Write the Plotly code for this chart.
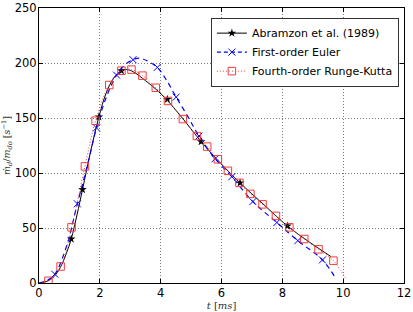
import plotly.graph_objects as go

# Abramzon et al. (1989) - smooth curve and star markers
abr_t = [0.0, 0.3, 0.5, 0.7, 0.9, 1.06, 1.25, 1.43, 1.7, 1.97, 2.2, 2.45, 2.71, 2.9, 3.1, 3.5, 3.85,
         4.22, 4.8, 5.33, 6.0, 6.61, 7.4, 8.17, 8.9, 9.6]
abr_y = [0.0, 2.0, 6.0, 14.0, 27.0, 40.0, 62.0, 85.0, 120.0, 151.0, 172.0, 186.0, 193.0, 194.0, 192.0,
         184.0, 176.0, 166.0, 147.0, 128.5, 108.0, 91.0, 71.0, 51.8, 37.0, 24.0]
abr_mt = [1.06, 1.43, 1.97, 2.71, 4.22, 5.33, 6.61, 8.17]
abr_my = [40.0, 85.0, 151.0, 193.0, 167.0, 128.5, 91.0, 51.8]

# First-order Euler
eul_t = [0.0, 0.25, 0.52, 0.9, 1.26, 1.6, 1.89, 2.2, 2.55, 2.85, 3.09, 3.3, 3.55, 3.89, 4.2, 4.51,
         4.9, 5.26, 5.79, 6.34, 7.03, 7.82, 8.51, 9.32, 9.76]
eul_y = [0.0, 2.0, 8.0, 33.0, 72.0, 108.0, 141.0, 168.0, 189.0, 199.0, 203.0, 204.5, 202.0, 196.0,
         184.0, 169.0, 151.0, 133.6, 113.0, 96.6, 74.0, 55.0, 38.5, 21.0, 4.0]
eul_mt = [0.52, 1.26, 1.89, 2.55, 3.09, 3.89, 4.51, 5.26, 5.79, 6.34, 7.03, 7.82, 8.51, 9.32]
eul_my = [8.0, 72.0, 141.0, 189.0, 203.0, 196.0, 169.0, 133.6, 113.0, 96.6, 74.0, 55.0, 38.5, 21.0]

# Fourth-order Runge-Kutta
rk_t = [0.0, 0.31, 0.71, 1.07, 1.51, 1.86, 2.31, 2.71, 3.04, 3.40, 3.84, 4.24, 4.73, 5.19, 5.53,
        5.88, 6.21, 6.59, 6.95, 7.35, 7.79, 8.23, 8.72, 9.19, 9.68, 9.9, 10.12]
rk_y = [0.0, 2.0, 15.0, 50.6, 106.0, 147.5, 180.0, 193.0, 194.0, 188.5, 177.5, 165.5, 149.0, 133.6,
        124.0, 112.4, 102.0, 91.0, 81.0, 71.5, 61.0, 50.6, 40.0, 30.6, 20.3, 12.0, 3.0]
rk_mt = rk_t[1:25]
rk_my = rk_y[1:25]

x_ticks = [0, 2, 4, 6, 8, 10, 12]
y_ticks = [0, 50, 100, 150, 200, 250]

BLUE = "#0000ff"
RED = "#f03c3c"

fig = go.Figure()
# Abramzon
fig.add_trace(go.Scatter(x=abr_t, y=abr_y, mode="lines", line=dict(color="black", width=1, shape="spline"),
                         showlegend=False, hoverinfo="skip"))
fig.add_trace(go.Scatter(x=abr_mt, y=abr_my, mode="markers",
                         marker=dict(symbol="star", size=6.5, color="black", line=dict(width=0)),
                         showlegend=False))
# Euler
fig.add_trace(go.Scatter(x=eul_t, y=eul_y, mode="lines",
                         line=dict(color=BLUE, width=1.2, dash="5px,4px", shape="spline"),
                         showlegend=False, hoverinfo="skip"))
fig.add_trace(go.Scatter(x=eul_mt, y=eul_my, mode="markers",
                         marker=dict(symbol="x-thin-open", size=7, color=BLUE, line=dict(width=1, color=BLUE)),
                         showlegend=False))
# RK4
fig.add_trace(go.Scatter(x=rk_t, y=rk_y, mode="lines",
                         line=dict(color=RED, width=1, dash="1px,2px", shape="spline"),
                         showlegend=False, hoverinfo="skip"))
fig.add_trace(go.Scatter(x=rk_mt, y=rk_my, mode="markers",
                         marker=dict(symbol="square-open", size=7.5, color=RED, line=dict(width=1, color=RED)),
                         showlegend=False))

# legend entries
fig.add_trace(go.Scatter(x=[None], y=[None], mode="lines+markers", name="Abramzon et al. (1989)",
                         line=dict(color="black", width=1),
                         marker=dict(symbol="star", size=6.5, color="black")))
fig.add_trace(go.Scatter(x=[None], y=[None], mode="lines+markers", name="First-order Euler",
                         line=dict(color=BLUE, width=1.2, dash="4px,3px"),
                         marker=dict(symbol="x-thin-open", size=7, color=BLUE, line=dict(width=1, color=BLUE))))
fig.add_trace(go.Scatter(x=[None], y=[None], mode="lines+markers", name="Fourth-order Runge-Kutta",
                         line=dict(color=RED, width=1, dash="1px,2px"),
                         marker=dict(symbol="square-open", size=7.5, color=RED, line=dict(width=1, color=RED))))

axis_common = dict(
    showline=True, linecolor="black", linewidth=1, mirror="allticks",
    ticks="inside", ticklen=4, tickcolor="black", tickwidth=1,
    showgrid=True, gridcolor="#7a7a7a", gridwidth=1, griddash="1px,2px",
    zeroline=False, automargin=False,
    tickfont=dict(family="DejaVu Sans", size=11.5, color="black"),
)

fig.update_xaxes(range=[0, 12], tickvals=x_ticks, ticktext=[str(v) for v in x_ticks],
                 ticklabelstandoff=-1,
                 title=dict(text="<i>t</i> [<i>ms</i>]", font=dict(family="DejaVu Serif", size=10, color="#333"),
                            standoff=0),
                 **axis_common)
fig.update_yaxes(range=[0, 250], tickvals=y_ticks, ticktext=[str(v) for v in y_ticks],
                 ticklabelstandoff=-1,
                 title=dict(text="<i>ṁ<sub>d</sub></i>/<i>m<sub>do</sub></i> [<i>s</i><sup>−1</sup>]",
                            font=dict(family="DejaVu Serif", size=9.5, color="#333"), standoff=2),
                 **axis_common)

fig.update_layout(
    width=413, height=312,
    margin=dict(l=39, r=9, t=8, b=29, autoexpand=False),
    plot_bgcolor="white", paper_bgcolor="white",
    legend=dict(x=0.986, y=0.965, xanchor="right", yanchor="top",
                bordercolor="#333", borderwidth=1, bgcolor="white",
                font=dict(family="DejaVu Sans", size=11, color="black"),
                tracegroupgap=0, itemwidth=30),
)

fig.write_html("out.html")
